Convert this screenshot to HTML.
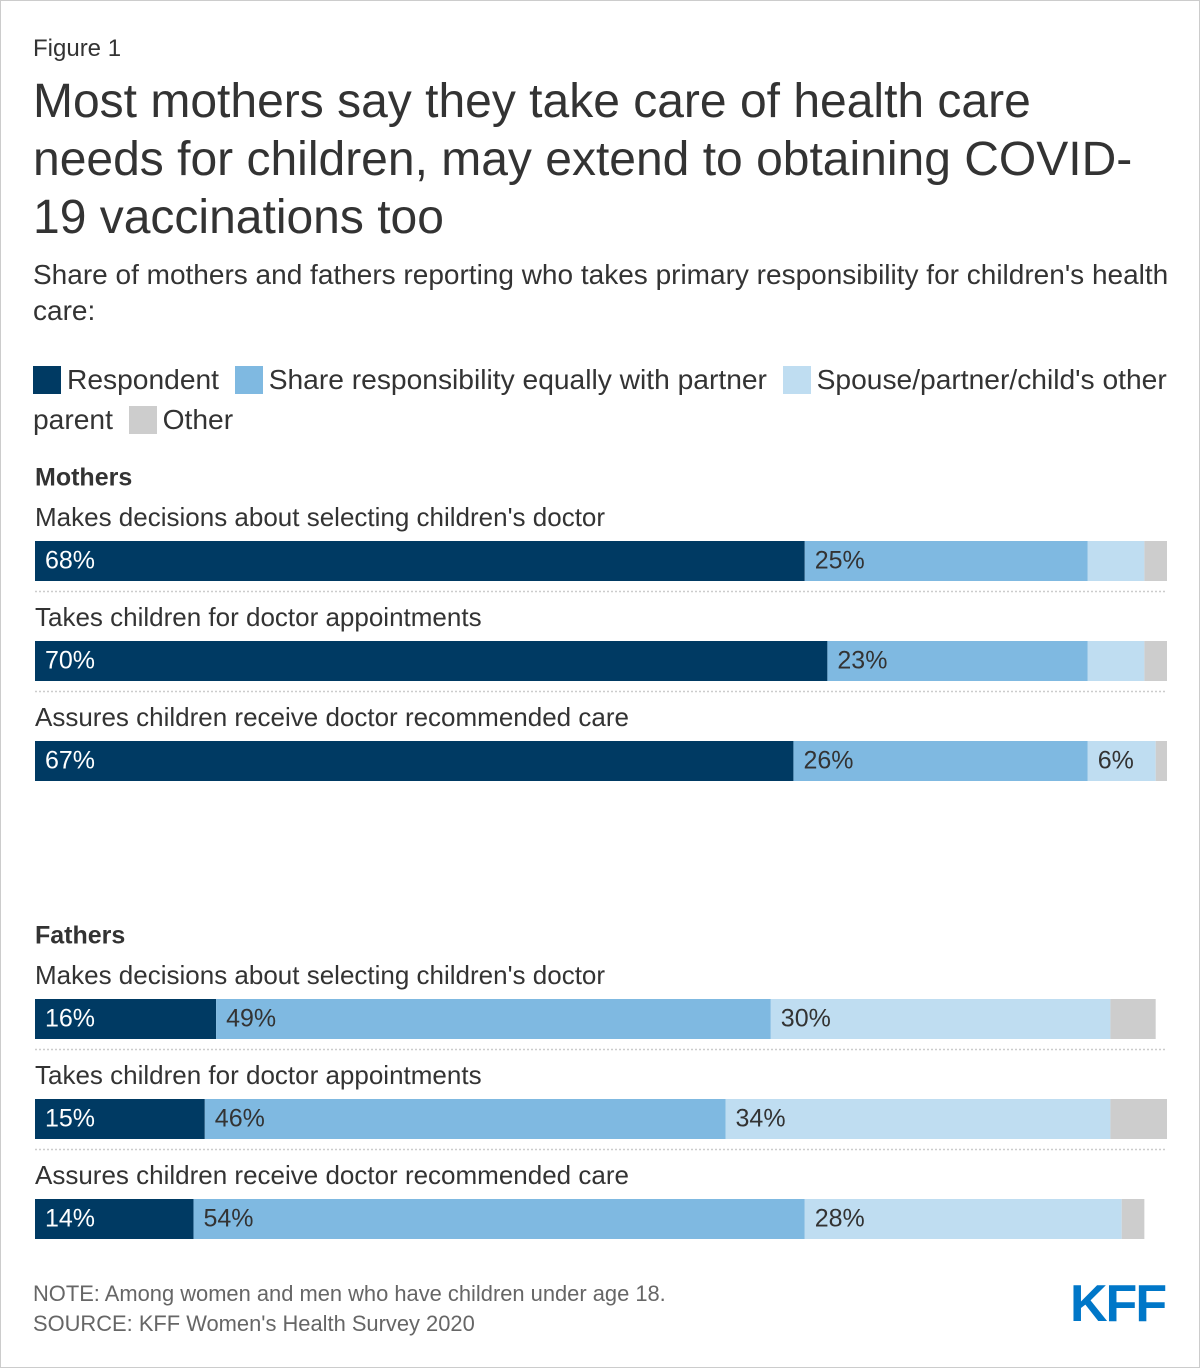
<!DOCTYPE html>
<html><head><meta charset="utf-8"><style>
body{margin:0;background:#fff;}
#page{position:relative;width:1198px;height:1366px;border:1px solid #ccc;font-family:"Liberation Sans",sans-serif;color:#333;overflow:hidden;}
.t{position:absolute;white-space:nowrap;}
.sw{display:inline-block;width:28px;height:28px;vertical-align:-5px;margin-right:6px;}
</style></head><body>
<div id="page">
<div class="t" style="left:32px;top:34px;font-size:24px;">Figure 1</div>
<div class="t" style="left:32px;top:72px;font-size:48px;line-height:58px;">Most mothers say they take care of health care<br>needs for children, may extend to obtaining COVID-<br>19 vaccinations too</div>
<div class="t" style="left:32px;top:256px;font-size:28px;line-height:36px;white-space:normal;width:1150px;">Share of mothers and fathers reporting who takes primary responsibility for children's health care:</div>
<div class="t" style="left:32px;top:358px;font-size:28.2px;line-height:40px;white-space:normal;width:1150px;">
<span><span class="sw" style="background:#003a63"></span>Respondent</span>&nbsp; <span><span class="sw" style="background:#7fb9e1"></span>Share responsibility equally with partner</span>&nbsp; <span><span class="sw" style="background:#bfddf1"></span>Spouse/partner/child's other parent</span>&nbsp; <span><span class="sw" style="background:#cdcdcd"></span>Other</span>
</div>
<svg id="chart" width="1198" height="1366" style="position:absolute;left:0;top:0"></svg>
<div class="t" style="left:32px;top:1280px;font-size:21.9px;color:#666;">NOTE: Among women and men who have children under age 18.</div>
<div class="t" style="left:32px;top:1310px;font-size:21.9px;color:#666;">SOURCE: KFF Women's Health Survey 2020</div>
<div class="t" style="left:1069px;top:1273px;font-size:52px;font-weight:bold;color:#0077c8;letter-spacing:-2px;">KFF</div>
</div>
<script>
const categories=["Makes decisions about selecting children's doctor","Takes children for doctor appointments","Assures children receive doctor recommended care"];
const groups=["Mothers","Fathers"];
const respondent=[[68,70,67],[16,15,14]];
const shared=[[25,23,26],[49,46,54]];
const spouse=[[5,5,6],[30,34,28]];
const other=[[2,2,1],[4,5,2]];
const colors=["#003a63","#7fb9e1","#bfddf1","#cdcdcd"];
const svg=document.getElementById('chart');
const NS='http://www.w3.org/2000/svg';
const x0=34,W=1132;
const xs=v=>x0+v/100*W;
const groupTop=[478,936];
function mk(tag,attrs){const e=document.createElementNS(NS,tag);for(const k in attrs)e.setAttribute(k,attrs[k]);svg.appendChild(e);return e;}
groups.forEach((g,gi)=>{
  const gt=mk('text',{x:34,y:groupTop[gi],'font-size':25,'font-weight':'bold',fill:'#333','dominant-baseline':'middle'});
  gt.textContent=g;
  
  
  categories.forEach((c,ci)=>{
    const by=groupTop[gi]+62+ci*100;
    const lt=mk('text',{x:34,y:by-22,'font-size':26,fill:'#333','dominant-baseline':'middle'});
    lt.textContent=c;
    
    
    const vals=[respondent[gi][ci],shared[gi][ci],spouse[gi][ci],other[gi][ci]];
    let cum=0;
    vals.forEach((v,si)=>{
      const r=mk('rect',{x:xs(cum),y:by,width:xs(cum+v)-xs(cum),height:40,fill:colors[si]});
      
      
      if(v>=6){
        const vt=mk('text',{x:xs(cum)+10,y:by+21,'font-size':25,fill:si==0?'#fff':'#333','dominant-baseline':'middle'});
        vt.textContent=v+'%';
        
        
      }
      cum+=v;
    });
    if(ci<2){
      const ln=mk('line',{x1:34,x2:1166,y1:by+50.5,y2:by+50.5,stroke:'#ccc','stroke-width':1.5,'stroke-dasharray':'2,2'});
      
      
    }
  });
});
</script>
</body></html>
